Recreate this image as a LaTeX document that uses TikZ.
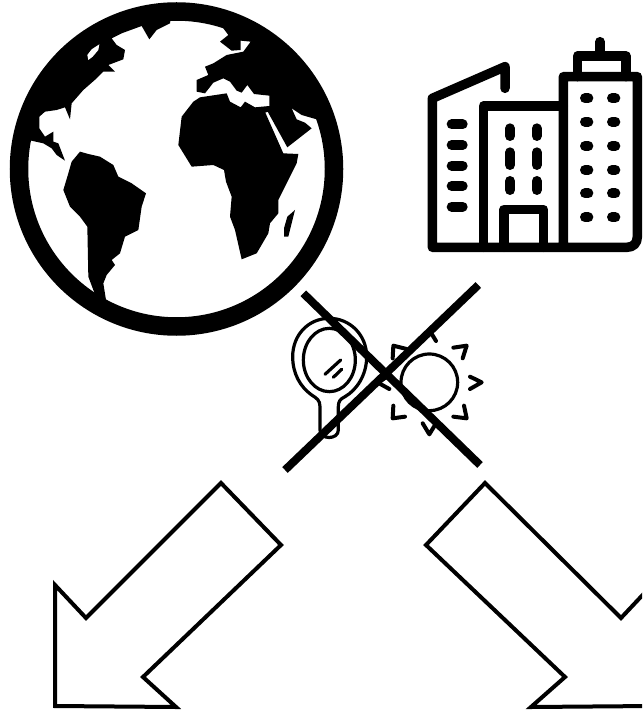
\documentclass[tikz,border=0pt]{standalone}
\usepackage{tikz}

\begin{document}
\begin{tikzpicture}[x=1pt, y=-1pt,
                bigarrow/.style={draw=black, line width=4pt, fill=white, miter limit=10},
                crossbar/.style={draw=black, line width=8pt},
                landmass/.style={fill=black},
                cityline/.style={draw=black, line width=9.5pt, line cap=round, line join=round},
                citydot/.style={draw=black, line width=10pt, line cap=round},
                thinline/.style={draw=black, line width=3.2pt, line cap=round, line join=round},
                rayline/.style={draw=black, line width=4pt, line cap=round, line join=round}
            ]

                \useasboundingbox (0, 0) rectangle (642, 711);
                \clip (0, 0) rectangle (642, 711);

                \begin{scope}[scale=1/3]
                    \clip (530,507) circle[radius=480];
                    \fill[landmass] (85,420) -- (130,430) -- (155,445) -- (170,465) -- (195,482)
                        -- (175,430) -- (160,425) -- (160,395) -- (135,410) -- (118,385)
                        -- (118,350) -- (135,335) -- (170,330) -- (195,322) -- (210,358)
                        -- (215,310) -- (250,270) -- (290,235) -- (310,215) -- (345,215)
                        -- (325,195) -- (370,178) -- (375,150) -- (350,135) -- (335,115)
                        -- (365,100) -- (425,78) -- (448,118) -- (470,90) -- (510,70)
                        -- (520,0) -- (0,0) -- (0,420) -- cycle;
                    \fill[white] (262,165) -- (275,148) -- (298,133) -- (295,150)
                        -- (278,170) -- (265,180) -- cycle;
                    \fill[landmass] (670,85) -- (685,105) -- (660,125) -- (695,152) -- (722,150)
                        -- (722,122) -- (752,125) -- (730,155) -- (680,165) -- (640,190)
                        -- (615,200) -- (625,225) -- (590,240) -- (590,275) -- (615,280)
                        -- (640,248) -- (670,235) -- (690,245) -- (710,272) -- (725,278)
                        -- (742,255) -- (762,282) -- (808,287) -- (808,318) -- (765,322)
                        -- (735,305) -- (722,322) -- (690,305) -- (680,280) -- (600,292)
                        -- (580,305) -- (545,350) -- (535,435) -- (575,500) -- (640,495)
                        -- (672,510) -- (678,545) -- (695,590) -- (690,650) -- (705,690)
                        -- (725,778) -- (770,760) -- (805,700) -- (810,670) -- (835,640)
                        -- (835,600) -- (890,490) -- (895,462) -- (850,460) -- (796,338)
                        -- (803,335) -- (862,442) -- (935,385) -- (915,368) -- (890,358)
                        -- (875,325) -- (905,345) -- (950,358) -- (1060,400) -- (1060,0)
                        -- (670,0) -- cycle;
                    \fill[landmass] (885,630) -- (875,670) -- (865,710) -- (852,710)
                        -- (852,685) -- (862,650) -- cycle;
                    \fill[landmass] (215,485) -- (240,455) -- (265,462) -- (300,470) -- (340,495)
                        -- (355,530) -- (395,550) -- (438,580) -- (425,620) -- (415,690)
                        -- (375,710) -- (360,760) -- (335,780) -- (345,795) -- (320,825)
                        -- (310,850) -- (318,900) -- (285,885) -- (280,870) -- (265,830)
                        -- (262,680) -- (240,650) -- (210,620) -- (190,570) -- (205,520) -- cycle;
                \end{scope}
                \draw[line width=18.5pt] (176.5, 169) circle[radius=157.5];

                \begin{scope}[shift={(420, 30)}, scale=1/3]
                    \draw[cityline] (255,175) -- (255,110) -- (37,205) -- (37,652) -- (620,652)
                        .. controls (640,652) and (652,640) .. (652,620) -- (652,140) -- (430,140) -- (430,652);
                    \draw[cityline] (190,652) -- (190,228) -- (430,228);
                    \draw[cityline] (252,652) -- (252,538) -- (370,538) -- (370,652);
                    \draw[cityline] (473,140) -- (473,78) -- (618,78) -- (618,140);
                    \draw[cityline] (540,78) -- (540,35);
                    \foreach \wy in {283, 345, 407, 468, 530}
                        \draw[citydot] (95,\wy) -- (128,\wy);
                    \foreach \wx in {270, 350} {
                        \draw[citydot] (\wx,295) -- (\wx,318);
                        \draw[citydot] (\wx,367) -- (\wx,405);
                        \draw[citydot] (\wx,453) -- (\wx,480);
                    }
                    \foreach \wy in {205, 275, 348, 420, 490, 562} {
                        \draw[citydot] (495,\wy) -- (505,\wy);
                        \draw[citydot] (576,\wy) -- (586,\wy);
                    }
                \end{scope}

                \begin{scope}[shift={(270, 275)}, scale=1/3]
                    \draw[thinline] (150,465) -- (150,395) .. controls (150,375) and (140,370) .. (125,360)
                        .. controls (90,335) and (68,295) .. (68,245)
                        .. controls (68,180) and (115,130) .. (178,130)
                        .. controls (240,130) and (290,180) .. (290,245)
                        .. controls (290,300) and (260,345) .. (225,365)
                        .. controls (210,372) and (205,380) .. (205,395) -- (205,465)
                        .. controls (205,495) and (150,495) .. (150,465);
                    \draw[thinline] (178,255) ellipse[x radius=78, y radius=95];
                    \draw[thinline] (165,298) -- (212,255);
                    \draw[thinline] (190,307) -- (215,283);

                    \draw[thinline] (478,322) circle[radius=85];
                    \draw[rayline] (600,305) -- (635,322) -- (600,342);
                    \draw[rayline] (550,218) -- (590,212) -- (578,250);
                    \draw[rayline] (550,425) -- (590,430) -- (582,392);
                    \draw[rayline] (458,445) -- (478,478) -- (498,445);
                    \draw[rayline] (370,392) -- (368,430) -- (405,425);
                    \draw[rayline] (368,250) -- (370,212) -- (410,222);
                    \draw[rayline] (460,195) -- (478,165) -- (498,198);
                    \draw[rayline] (358,302) -- (322,322) -- (358,342);

                    \draw[crossbar] (100,55) -- (630,570);
                    \draw[crossbar] (625,30) -- (45,585);
                \end{scope}

                \draw[bigarrow] (221,483) -- (281,545) -- (143,677) -- (176,707) -- (55,706)
                    -- (55,585) -- (86,618) -- cycle;
                \draw[bigarrow] (485,483) -- (426,545) -- (565,677) -- (531,707) -- (652,706)
                    -- (652,585) -- (621,618) -- cycle;

            \end{tikzpicture}
\end{document}
